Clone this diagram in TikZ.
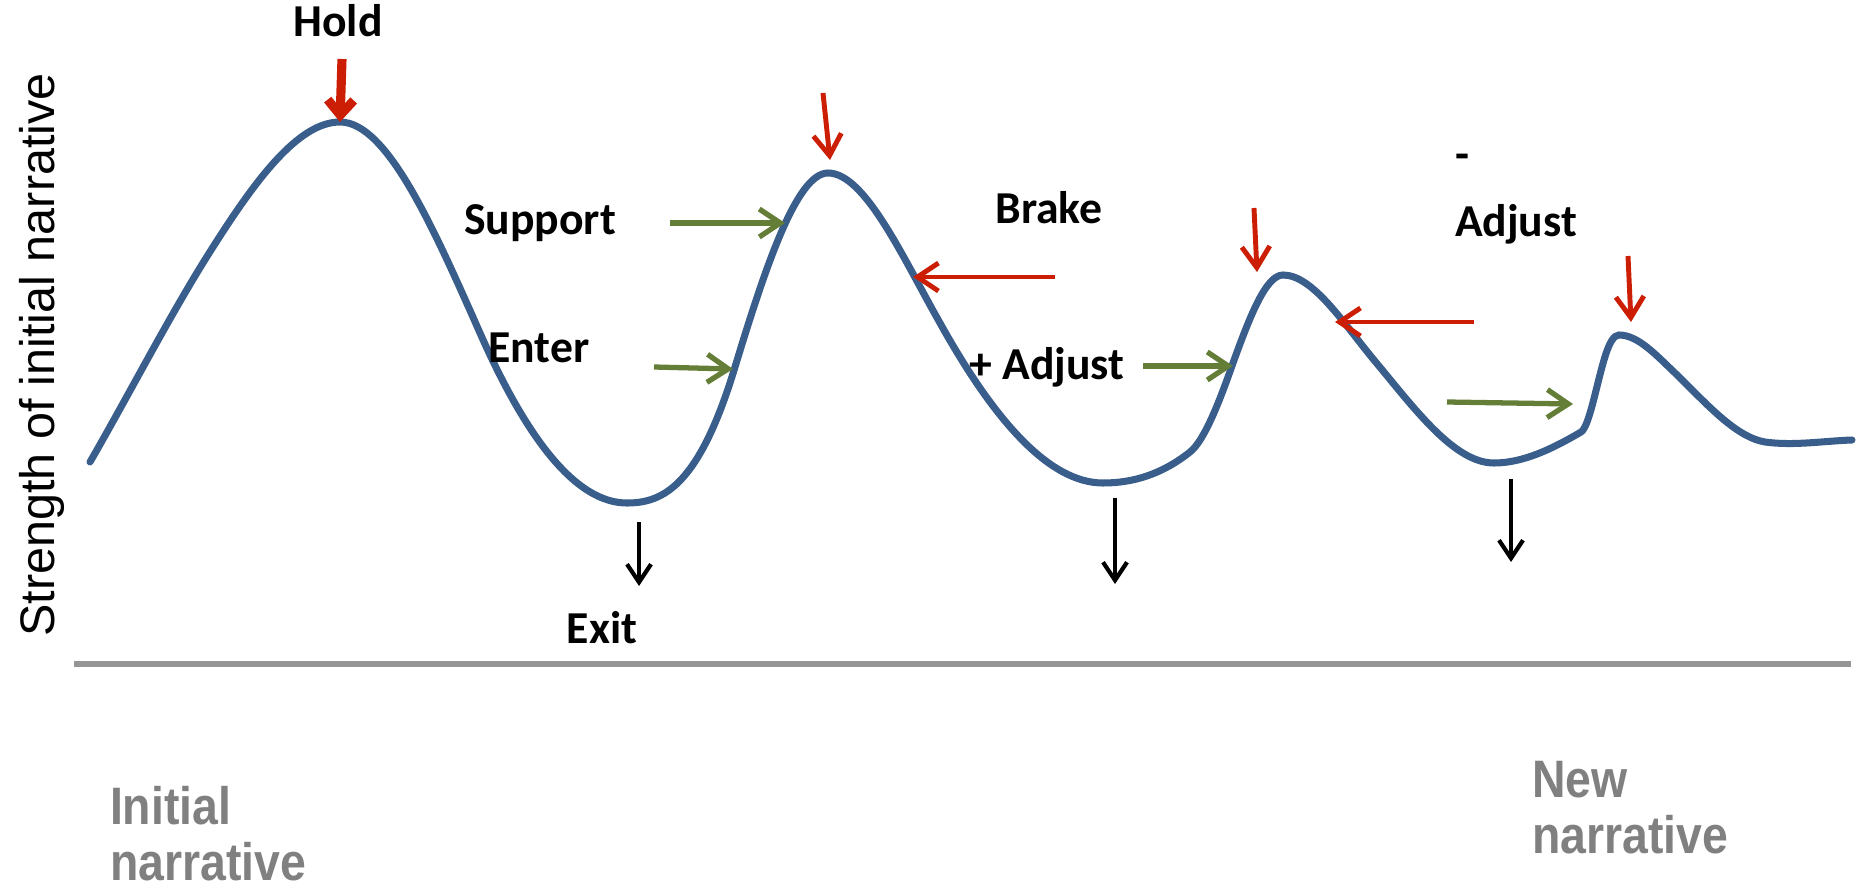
\documentclass[tikz,border=0pt]{standalone}
\usepackage{fontspec}
\setmainfont{Carlito}
\newfontfamily\axisfont{Liberation Sans}
\newfontfamily\narrowfont{Liberation Sans}[FakeStretch=0.88]
\usetikzlibrary{arrows.meta}

\definecolor{curveblue}{RGB}{58,94,140}
\definecolor{pushred}{RGB}{204,30,5}
\definecolor{pullgreen}{RGB}{100,125,55}
\definecolor{axisgray}{RGB}{150,150,150}
\definecolor{textgray}{RGB}{128,128,128}

\tikzset{
    curve/.style={line width=2pt, curveblue, line cap=round},
    redarrow/.style={line width=1.4pt, pushred, -{Straight Barb[length=2.1mm,width=2.8mm]}},
    holdarrow/.style={line width=2.6pt, pushred, -{Straight Barb[length=1.5mm,width=2.6mm]}},
    greenarrow/.style={line width=1.5pt, pullgreen, -{Straight Barb[length=2.1mm,width=2.8mm]}},
    exitarrow/.style={line width=1.2pt, black, -{Straight Barb[length=1.8mm,width=2.4mm]}},
    lbl/.style={font=\fontsize{13}{15}\selectfont\bfseries},
    endlbl/.style={font=\narrowfont\fontsize{15}{16}\selectfont\bfseries, textgray, align=left},
}

\begin{document}
\begin{tikzpicture}
    \useasboundingbox (0,0) rectangle (18.70,8.88);

    % Define the peaks and troughs of the curve
    \coordinate (P1) at (3.40,7.66);
    \coordinate (T1) at (6.27,3.85);
    \coordinate (P2) at (8.28,7.15);
    \coordinate (T2) at (11.03,4.05);
    \coordinate (P3) at (12.83,6.13);
    \coordinate (T3) at (14.94,4.25);
    \coordinate (P4) at (16.19,5.53);

    % Draw the baseline
    \draw[axisgray, line width=1.5pt] (0.74,2.24) -- (18.51,2.24);

    % Draw the curve, one wave after the other
    \draw[curve] (0.90,4.26)
        .. controls (1.31,4.97) and (1.72,5.77) .. (2.13,6.41)
        .. controls (2.55,7.07) and (2.98,7.66) .. (P1)
        .. controls (3.87,7.66) and (4.33,6.61) .. (4.80,5.55)
        .. controls (5.29,4.44) and (5.78,3.85) .. (T1)
        .. controls (6.63,3.85) and (6.99,4.02) .. (7.35,5.21)
        .. controls (7.66,6.23) and (7.97,7.15) .. (P2)
        .. controls (8.65,7.15) and (9.03,6.30) .. (9.40,5.65)
        .. controls (9.94,4.68) and (10.49,4.05) .. (T2)
        .. controls (11.32,4.05) and (11.61,4.13) .. (11.90,4.36)
        .. controls (12.04,4.47) and (12.19,4.85) .. (12.33,5.25)
        .. controls (12.50,5.72) and (12.66,6.13) .. (P3)
        .. controls (13.13,6.13) and (13.44,5.64) .. (13.74,5.28)
        .. controls (14.14,4.80) and (14.54,4.25) .. (T3)
        .. controls (15.23,4.25) and (15.52,4.39) .. (15.81,4.56)
        .. controls (15.89,4.61) and (15.96,5.01) .. (16.04,5.28)
        .. controls (16.09,5.455) and (16.14,5.53) .. (P4)
        .. controls (16.38,5.53) and (16.56,5.33) .. (16.75,5.15)
        .. controls (17.05,4.86) and (17.35,4.51) .. (17.65,4.46)
        .. controls (17.94,4.42) and (18.23,4.47) .. (18.52,4.48);

    % Start and end points of the arrows
    \coordinate (hA) at (3.42,8.29);
    \coordinate (sA) at (6.70,6.65); \coordinate (sB) at (7.85,6.65);
    \coordinate (eA) at (6.54,5.21); \coordinate (eB) at (7.33,5.19);
    \coordinate (xA) at (6.39,3.66); \coordinate (xB) at (6.39,3.02);
    \coordinate (rA) at (8.23,7.95); \coordinate (rB) at (8.30,7.28);
    \coordinate (bA) at (10.55,6.11); \coordinate (bB) at (9.13,6.11);
    \coordinate (aA) at (11.43,5.22); \coordinate (aB) at (12.33,5.22);
    \coordinate (yA) at (11.15,3.90); \coordinate (yB) at (11.15,3.04);
    \coordinate (qA) at (12.54,6.80); \coordinate (qB) at (12.57,6.16);
    \coordinate (mA) at (14.74,5.66); \coordinate (mB) at (13.35,5.66);
    \coordinate (gA) at (14.47,4.86); \coordinate (gB) at (15.73,4.84);
    \coordinate (nA) at (16.28,6.32); \coordinate (nB) at (16.31,5.66);
    \coordinate (zA) at (15.11,4.09); \coordinate (zB) at (15.11,3.26);

    % Draw the arrows
    \draw[holdarrow] (hA) -- (P1);
    \draw[greenarrow] (sA) -- (sB);
    \draw[greenarrow] (eA) -- (eB);
    \draw[exitarrow] (xA) -- (xB);
    \draw[redarrow] (rA) -- (rB);
    \draw[redarrow] (bA) -- (bB);
    \draw[greenarrow] (aA) -- (aB);
    \draw[exitarrow] (yA) -- (yB);
    \draw[redarrow] (qA) -- (qB);
    \draw[redarrow] (mA) -- (mB);
    \draw[greenarrow] (gA) -- (gB);
    \draw[redarrow] (nA) -- (nB);
    \draw[exitarrow] (zA) -- (zB);

    % Place the labels
    \node (hold) at (3.38,8.67) [lbl] {Hold};
    \node (support) at (5.40,6.65) [lbl] {Support};
    \node (enter) at (5.39,5.40) [lbl] {Enter};
    \node (exit) at (6.02,2.60) [lbl] {Exit};
    \node (brake) at (10.49,6.80) [lbl] {Brake};
    \node (plusadj) at (10.47,5.21) [lbl] {+ Adjust};
    \node (minusadj) at (15.16,6.89) [lbl, align=left, font=\fontsize{13}{19}\selectfont\bfseries] {-\\Adjust};
    \node (ylabel) at (0.42,5.33) [rotate=90, font=\axisfont\fontsize{13.8}{16}\selectfont] {Strength of initial narrative};
    \node (initial) at (2.08,0.54) [endlbl] {Initial\\narrative};
    \node (new) at (16.30,0.80) [endlbl] {New\\narrative};
\end{tikzpicture}
\end{document}
